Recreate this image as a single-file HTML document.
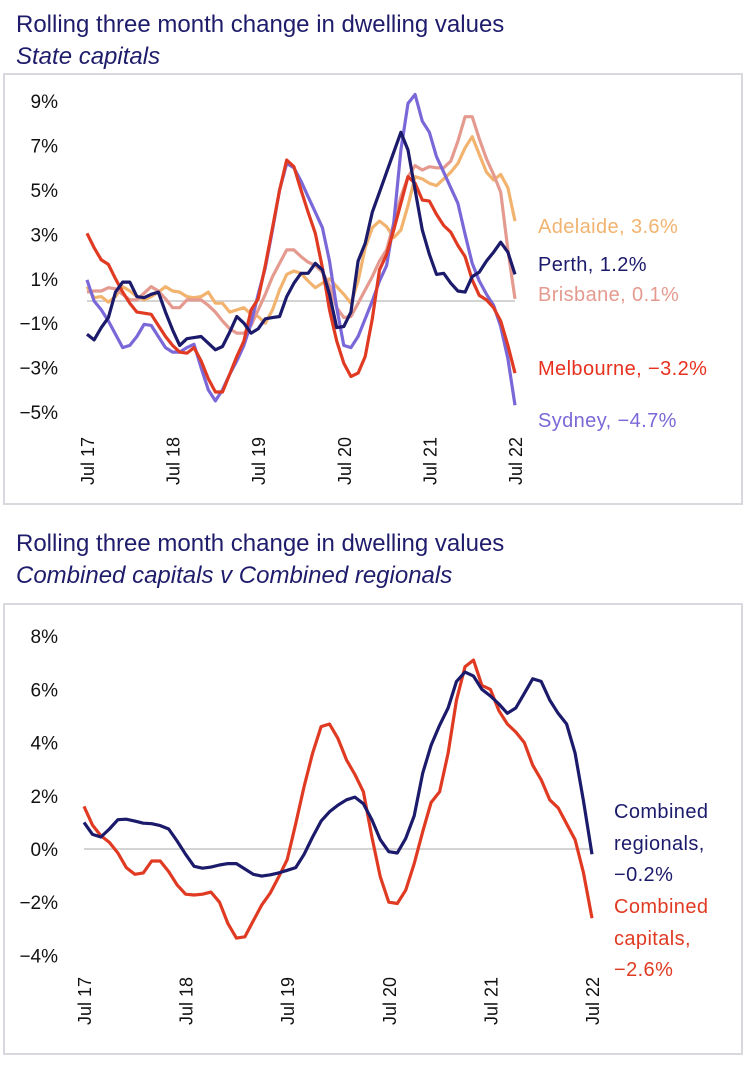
<!DOCTYPE html>
<html><head><meta charset="utf-8"><style>
body{margin:0;background:#fff;width:746px;height:1060px;overflow:hidden;font-family:"Liberation Sans",sans-serif}
svg text{font-family:"Liberation Sans",sans-serif}
</style></head><body>
<svg id="s" width="746" height="1060">
<text x="16" y="32" font-size="24" fill="#1f1d6b">Rolling three month change in dwelling values</text>
<text x="16" y="64" font-size="24" font-style="italic" fill="#1f1d6b">State capitals</text>
<rect x="4" y="74" width="738" height="430" fill="none" stroke="#d8d8de" stroke-width="2"/>
<text x="16" y="551" font-size="24" fill="#1f1d6b">Rolling three month change in dwelling values</text>
<text x="16" y="583" font-size="24" font-style="italic" fill="#1f1d6b">Combined capitals v Combined regionals</text>
<rect x="4" y="604" width="738" height="450" fill="none" stroke="#d8d8de" stroke-width="2"/>
<g id="c1"></g><g id="c2"></g>
</svg>
<script>
const xLabels=["Jul 17","Jul 18","Jul 19","Jul 20","Jul 21","Jul 22"];
const ticks1=[9,7,5,3,1,-1,-3,-5];
const ticks2=[8,6,4,2,0,-2,-4];
const melbourne=[3.05,2.4,1.85,1.65,1.0,0.4,-0.1,-0.5,-0.55,-0.6,-1.1,-1.6,-2.0,-2.3,-2.35,-2.1,-2.7,-3.5,-4.1,-4.1,-3.3,-2.5,-1.8,-0.4,0.1,1.6,3.3,5.0,6.35,6.05,5.0,4.0,3.05,1.5,-0.4,-1.8,-2.8,-3.4,-3.25,-2.5,-0.8,1.4,2.1,3.2,4.4,5.6,5.3,4.55,4.5,3.9,3.4,3.1,2.5,2.0,0.95,0.25,0.05,-0.3,-0.9,-2.0,-3.25];
const sydney=[0.95,0.0,-0.4,-0.9,-1.5,-2.1,-2.0,-1.6,-1.05,-1.1,-1.6,-2.1,-2.3,-2.3,-2.1,-1.95,-3.0,-4.0,-4.5,-4.0,-3.3,-2.7,-2.0,-1.0,0.3,1.5,3.2,5.0,6.2,6.0,5.4,4.7,4.0,3.3,1.8,-0.3,-2.0,-2.1,-1.6,-0.8,0.0,0.9,1.6,3.5,6.8,8.9,9.3,8.1,7.6,6.5,5.8,5.1,4.4,3.0,1.7,0.9,0.3,-0.2,-1.15,-2.6,-4.7];
const perth=[-1.5,-1.75,-1.2,-0.75,0.4,0.85,0.85,0.2,0.15,0.3,0.4,-0.5,-1.3,-2.0,-1.7,-1.65,-1.6,-1.9,-2.2,-2.05,-1.4,-0.7,-1.0,-1.45,-1.25,-0.8,-0.75,-0.7,0.2,0.8,1.25,1.25,1.7,1.4,0.3,-1.2,-1.15,-0.5,1.8,2.6,4.0,4.9,5.8,6.7,7.6,6.8,5.0,3.2,2.1,1.2,1.25,0.8,0.45,0.4,1.1,1.3,1.8,2.2,2.65,2.2,1.2];
const adelaide=[0.65,0.15,0.2,-0.05,0.2,0.65,0.45,0.2,0.05,0.2,0.4,0.65,0.45,0.4,0.2,0.15,0.2,0.4,-0.1,-0.1,-0.5,-0.4,-0.3,-0.6,-0.7,-1.0,-0.4,0.5,1.2,1.35,1.25,0.9,0.6,0.8,1.0,0.65,0.3,-0.1,0.9,2.4,3.3,3.6,3.35,2.85,3.2,4.3,5.6,5.5,5.3,5.2,5.5,5.8,6.2,6.9,7.4,6.6,5.8,5.45,5.7,5.1,3.6];
const brisbane=[0.4,0.45,0.45,0.6,0.55,0.3,0.05,0.05,0.35,0.65,0.45,0.1,-0.3,-0.3,0.05,0.05,0.05,-0.2,-0.5,-0.9,-1.25,-1.45,-1.45,-1.1,-0.4,0.3,1.1,1.7,2.3,2.3,2.0,1.75,1.6,1.3,0.7,-0.3,-0.75,-0.7,-0.1,0.5,1.1,1.8,2.3,3.5,4.7,5.6,6.1,5.9,6.05,6.0,6.0,6.3,7.2,8.3,8.3,7.3,6.4,5.7,4.9,2.3,0.1];
const regionals=[1.0,0.55,0.45,0.75,1.1,1.12,1.05,0.97,0.95,0.88,0.75,0.3,-0.2,-0.65,-0.72,-0.68,-0.6,-0.55,-0.55,-0.75,-0.95,-1.02,-0.97,-0.9,-0.8,-0.7,-0.2,0.45,1.05,1.4,1.65,1.85,1.95,1.7,1.1,0.35,-0.1,-0.15,0.4,1.25,2.85,3.9,4.65,5.3,6.3,6.65,6.5,6.0,5.75,5.45,5.1,5.3,5.85,6.4,6.3,5.6,5.1,4.7,3.6,1.8,-0.2];
const capitals=[1.6,0.9,0.5,0.25,-0.15,-0.7,-0.95,-0.9,-0.45,-0.45,-0.85,-1.35,-1.7,-1.73,-1.7,-1.62,-2.0,-2.8,-3.35,-3.3,-2.7,-2.1,-1.65,-1.05,-0.4,0.95,2.35,3.6,4.6,4.7,4.15,3.35,2.8,2.15,0.45,-1.05,-2.0,-2.05,-1.55,-0.55,0.65,1.75,2.15,3.6,5.6,6.85,7.1,6.15,6.0,5.2,4.7,4.4,4.0,3.15,2.6,1.85,1.55,0.95,0.35,-0.9,-2.6];

const NS="http://www.w3.org/2000/svg";
function mk(p,tag,at){const e=document.createElementNS(NS,tag);for(const k in at)e.setAttribute(k,at[k]);p.appendChild(e);return e;}
function chart(g,cfg){
  const xs=i=>cfg.x0+(cfg.x1-cfg.x0)*i/60;
  const ys=v=>cfg.y0-v*cfg.ppu;
  const z=mk(g,'line',{x1:cfg.x0,x2:cfg.x1,y1:ys(0),y2:ys(0),stroke:'#d4d4d4','stroke-width':2});
  
  
  cfg.ticks.forEach(t=>{
    const e=mk(g,'text',{x:58,y:ys(t)+7,'text-anchor':'end','font-size':19,fill:'#111'});
    e.textContent=(t<0?'\u2212':'')+Math.abs(t)+'%';
    
    
  });
  xLabels.forEach((l,k)=>{
    const x=xs(k*12)+7,y=cfg.xly;
    const e=mk(g,'text',{x:x,y:y,'text-anchor':'start','font-size':18,fill:'#111',transform:`rotate(-90 ${x} ${y})`});
    e.textContent=l;
    
    
  });
  cfg.series.forEach(s=>{
    const p=mk(g,'polyline',{points:s.d.map((v,i)=>xs(i).toFixed(1)+','+ys(v).toFixed(1)).join(' '),fill:'none',stroke:s.c,'stroke-width':3.2,'stroke-linejoin':'round'});
    
    
  });
  cfg.labels.forEach(l=>{
    const e=mk(g,'text',{x:l.x,y:l.y,'font-size':20,'letter-spacing':0.4,fill:l.c});
    e.textContent=l.t;
    
    
  });
}
chart(document.getElementById('c1'),{x0:87,x1:515,y0:301,ppu:22.2,ticks:ticks1,xly:485,
 series:[{n:'adelaide',d:adelaide,c:'#f2b36f'},{n:'brisbane',d:brisbane,c:'#e59a8f'},{n:'sydney',d:sydney,c:'#7b68d8'},{n:'melbourne',d:melbourne,c:'#e03a22'},{n:'perth',d:perth,c:'#1b1a6b'}],
 labels:[{t:'Adelaide, 3.6%',x:538,y:233,c:'#f2b36f'},{t:'Perth, 1.2%',x:538,y:271,c:'#1b1a6b'},{t:'Brisbane, 0.1%',x:538,y:301,c:'#e59a8f'},{t:'Melbourne, \u22123.2%',x:538,y:375,c:'#e8301e'},{t:'Sydney, \u22124.7%',x:538,y:427,c:'#7b68d8'}]});
chart(document.getElementById('c2'),{x0:84,x1:592,y0:849,ppu:26.6,ticks:ticks2,xly:1025,
 series:[{n:'combined-capitals',d:capitals,c:'#e03a22'},{n:'combined-regionals',d:regionals,c:'#1b1a6b'}],
 labels:[{t:'Combined',x:614,y:818,c:'#1b1a6b'},{t:'regionals,',x:614,y:850,c:'#1b1a6b'},{t:'\u22120.2%',x:614,y:881,c:'#1b1a6b'},{t:'Combined',x:614,y:913,c:'#e03a22'},{t:'capitals,',x:614,y:945,c:'#e03a22'},{t:'\u22122.6%',x:614,y:976,c:'#e03a22'}]});
</script>
</body></html>
